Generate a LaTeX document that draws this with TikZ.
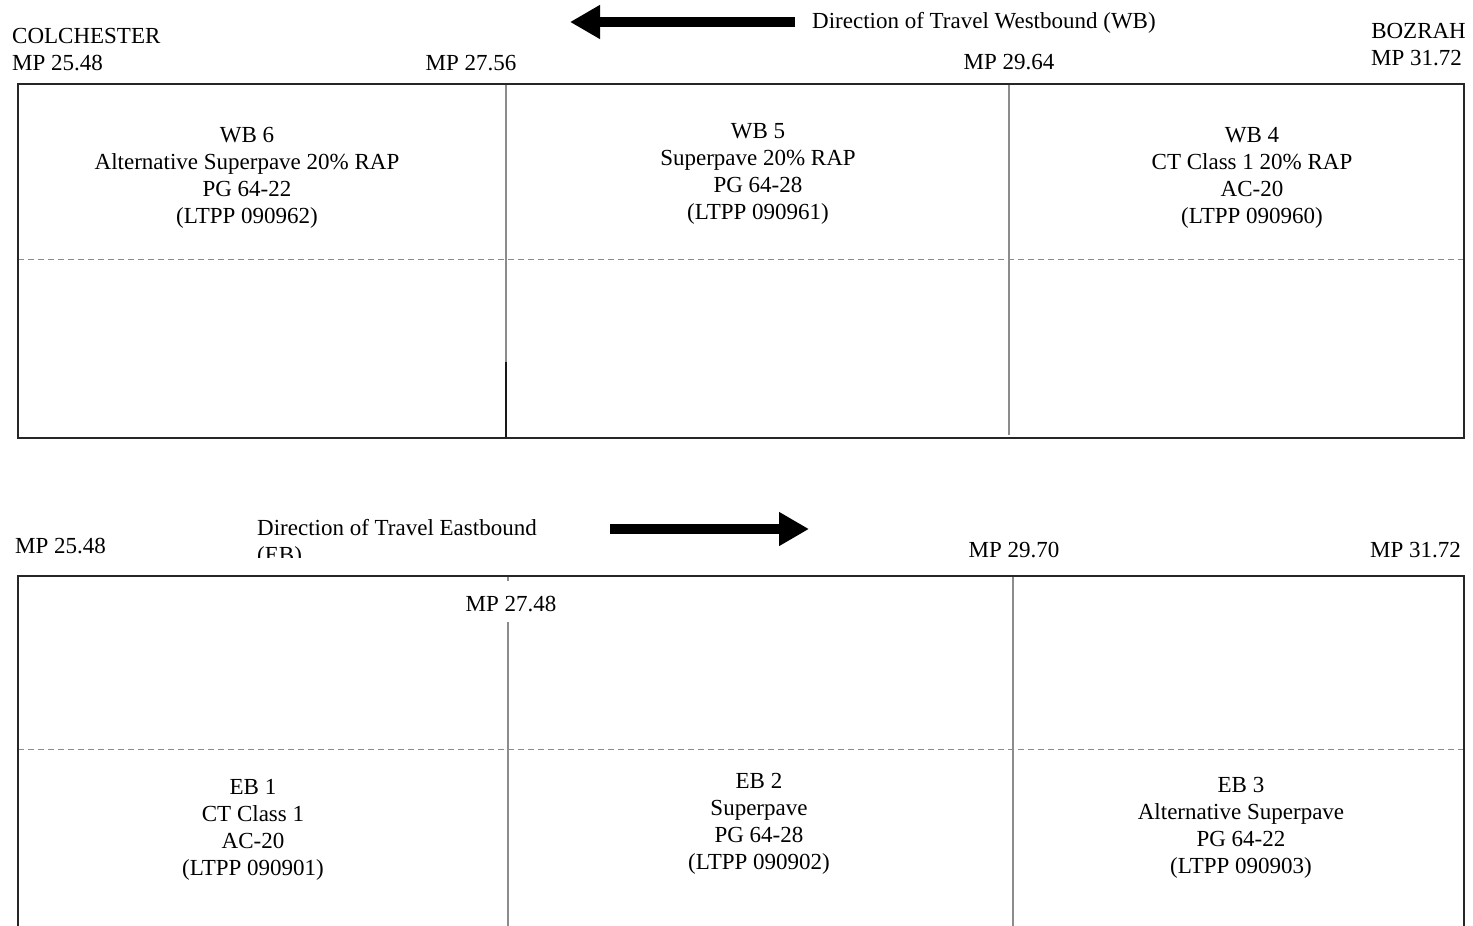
\documentclass[tikz,border=0pt]{standalone}
\usepackage{fontspec}
\setmainfont{Liberation Serif}
\usetikzlibrary{arrows.meta}
\tikzset{
  lbl/.style={inner sep=0pt, font=\fontsize{23}{27}\selectfont},
  blk/.style={inner sep=0pt, align=center, font=\fontsize{23}{27}\selectfont},
  boxline/.style={draw=black!85, line width=1.6pt},
  divider/.style={draw=black!45, line width=1.4pt},
  darkdiv/.style={draw=black!90, line width=1.4pt},
  lane/.style={draw=black!45, line width=1pt, dash pattern=on 6pt off 4pt},
  bigarrow/.style={line width=10pt, -{Triangle[length=30pt,width=32pt]}}
}
\begin{document}
\begin{tikzpicture}[x=1pt,y=-1pt]
\useasboundingbox[fill=white] (0,0) rectangle (1473,926);

% ---------- Westbound ----------
\node[lbl, anchor=west] (colch) at (12,36) {COLCHESTER};
\node[lbl, anchor=west] (wmpa) at (12,63) {MP 25.48};
\node[lbl] (wmpb) at (471,63) {MP 27.56};
\node[lbl] (wmpc) at (1009,62) {MP 29.64};
\node[lbl, anchor=east] (bozrah) at (1466,31) {BOZRAH};
\node[lbl, anchor=east] (wmpd) at (1462,58) {MP 31.72};

\coordinate (wbs) at (795,22);
\coordinate (wbe) at (570,22);
\draw[bigarrow] (wbs) -- (wbe);
\node[lbl, anchor=west] (wbdir) at (812,23) {Direction of Travel Westbound (WB)};

\draw[lane] (18,259) -- (1464,259);
\draw[divider] (506,84) -- (506,362);
\draw[darkdiv] (506,362) -- (506,438);
\draw[divider] (1009,84) -- (1009,435);
\draw[boxline] (18,84) rectangle (1464,438);

\node[blk] (wb6) at (247,178) {WB 6\\Alternative Superpave 20\% RAP\\PG 64-22\\(LTPP 090962)};
\node[blk] (wb5) at (758,174) {WB 5\\Superpave 20\% RAP\\PG 64-28\\(LTPP 090961)};
\node[blk] (wb4) at (1252,178) {WB 4\\CT Class 1 20\% RAP\\AC-20\\(LTPP 090960)};

% ---------- Eastbound ----------
\node[lbl, anchor=west] (empa) at (15,546) {MP 25.48};
\begin{scope}
  \clip (240,505) rectangle (600,557);
  \node[lbl, anchor=north west, align=left] (ebdir) at (257,519) {Direction of Travel Eastbound\\(EB)};
\end{scope}
\coordinate (ebs) at (610,529);
\coordinate (ebe) at (809,529);
\draw[bigarrow] (ebs) -- (ebe);
\node[lbl] (empc) at (1014,550) {MP 29.70};
\node[lbl, anchor=east] (empd) at (1461,550) {MP 31.72};
\node[lbl] (empb) at (511,604) {MP 27.48};

\draw[lane] (18,749) -- (1464,749);
\draw[divider] (508,576) -- (508,581);
\draw[divider] (508,622) -- (508,926);
\draw[divider] (1013,576) -- (1013,926);
\draw[boxline] (18,930) -- (18,576) -- (1464,576) -- (1464,930);

\node[blk] (eb1) at (253,830) {EB 1\\CT Class 1\\AC-20\\(LTPP 090901)};
\node[blk] (eb2) at (759,824) {EB 2\\Superpave\\PG 64-28\\(LTPP 090902)};
\node[blk] (eb3) at (1241,828) {EB 3\\Alternative Superpave\\PG 64-22\\(LTPP 090903)};
\end{tikzpicture}
\end{document}
